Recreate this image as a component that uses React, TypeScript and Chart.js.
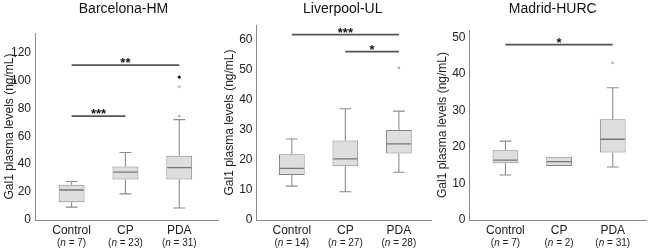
import React, { useEffect, useRef } from "react";
import { Chart, registerables } from "chart.js";

Chart.register(...registerables);

const FONT = '"Liberation Sans", Arial, sans-serif';

const categories = ["Control", "CP", "PDA"];

// Barcelona-HM
const bcnN = [7, 23, 31];
const bcnLow = [9.2, 18.7, 8.6];
const bcnQ1 = [12.7, 29.0, 29.0];
const bcnMedian = [21.5, 34.3, 37.6];
const bcnQ3 = [25.2, 38.3, 46.0];
const bcnHigh = [27.6, 48.4, 71.9];
const bcnOutliers = [[3, 74.5], [3, 95.4]];
const bcnExtremes = [[3, 102.4]];
const bcnSig = [
  { from: 1, to: 3, y: 111, label: "**" },
  { from: 1, to: 2, y: 74.5, label: "***" },
];

// Liverpool-UL
const livN = [14, 27, 28];
const livLow = [11.3, 9.4, 15.9];
const livQ1 = [15.0, 17.9, 22.2];
const livMedian = [17.2, 20.4, 25.4];
const livQ3 = [21.9, 26.5, 30.0];
const livHigh = [27.0, 37.1, 36.3];
const livOutliers = [[3, 50.7]];
const livExtremes: number[][] = [];
const livSig = [
  { from: 1, to: 3, y: 61.8, label: "***" },
  { from: 2, to: 3, y: 56.1, label: "*" },
];

// Madrid-HURC
const madN = [7, 2, 31];
const madLow = [12.3, null, 14.5];
const madQ1 = [15.5, 14.8, 18.5];
const madMedian = [16.4, 16.0, 22.1];
const madQ3 = [19.1, 17.3, 27.6];
const madHigh = [21.6, null, 36.2];
const madOutliers = [[3, 43.0]];
const madExtremes: number[][] = [];
const madSig = [{ from: 1, to: 3, y: 48, label: "*" }];

const yTitle = "Gal1 plasma levels (ng/mL)";

const panels = [
  {
    title: "Barcelona-HM", n: bcnN, low: bcnLow, q1: bcnQ1, med: bcnMedian, q3: bcnQ3, high: bcnHigh,
    outliers: bcnOutliers, extremes: bcnExtremes, sig: bcnSig,
    yMax: 134, yStep: 20, xMin: 0.32, xMax: 3.72,
    left: 0, width: 222, padRight: 2, yWidth: 35, titlePad: 2.8, top: 33, titleShift: -3,
  },
  {
    title: "Liverpool-UL", n: livN, low: livLow, q1: livQ1, med: livMedian, q3: livQ3, high: livHigh,
    outliers: livOutliers, extremes: livExtremes, sig: livSig,
    yMax: 65, yStep: 10, xMin: 0.34, xMax: 3.6,
    left: 222, width: 213, padRight: 2, yWidth: 34.5, titlePad: 0.8, top: 25, titleShift: -1,
  },
  {
    title: "Madrid-HURC", n: madN, low: madLow, q1: madQ1, med: madMedian, q3: madQ3, high: madHigh,
    outliers: madOutliers, extremes: madExtremes, sig: madSig,
    yMax: 52, yStep: 10, xMin: 0.33, xMax: 3.62,
    left: 435, width: 215, padRight: 1, yWidth: 34.5, titlePad: 0.8, top: 30, titleShift: -5,
  },
];

const CAP = 0.11;
const MED_HALF = 0.225;

function buildChart(canvas: HTMLCanvasElement, cfg: any) {
  const whisker: any[] = [];
  const median: any[] = [];
  categories.forEach((_, i) => {
    const x = i + 1;
    if (cfg.high[i] != null) {
      whisker.push({ x, y: cfg.q3[i] }, { x, y: cfg.high[i] }, { x, y: null });
      whisker.push({ x: x - CAP, y: cfg.high[i] }, { x: x + CAP, y: cfg.high[i] }, { x, y: null });
    }
    if (cfg.low[i] != null) {
      whisker.push({ x, y: cfg.q1[i] }, { x, y: cfg.low[i] }, { x, y: null });
      whisker.push({ x: x - CAP, y: cfg.low[i] }, { x: x + CAP, y: cfg.low[i] }, { x, y: null });
    }
    median.push({ x: x - MED_HALF, y: cfg.med[i] }, { x: x + MED_HALF, y: cfg.med[i] }, { x, y: null });
  });
  const sigLines: any[] = [];
  cfg.sig.forEach((s: any) => {
    sigLines.push({ x: s.from, y: s.y }, { x: s.to, y: s.y }, { x: s.to, y: null });
  });

  const textPlugin = {
    id: "texts" + cfg.title,
    afterDraw(chart: any) {
      const { ctx, chartArea, scales } = chart;
      const xs = scales.x;
      const ys = scales.y;
      ctx.save();
      ctx.fillStyle = "#111";
      ctx.textAlign = "center";
      ctx.textBaseline = "middle";
      ctx.font = `14px ${FONT}`;
      ctx.fillText(cfg.title, (chartArea.left + chartArea.right) / 2 + cfg.titleShift, 9);
      categories.forEach((c, i) => {
        const px = xs.getPixelForValue(i + 1);
        ctx.fillStyle = "#222";
        ctx.textAlign = "center";
        ctx.font = `12px ${FONT}`;
        ctx.fillText(c, px, 231);
        const parts: [string, boolean][] = [["(", false], ["n", true], [` = ${cfg.n[i]})`, false]];
        let total = 0;
        parts.forEach(([t, it]) => {
          ctx.font = `${it ? "italic " : ""}10px ${FONT}`;
          total += ctx.measureText(t).width;
        });
        let cx = px - total / 2;
        ctx.textAlign = "left";
        parts.forEach(([t, it]) => {
          ctx.font = `${it ? "italic " : ""}10px ${FONT}`;
          ctx.fillText(t, cx, 243);
          cx += ctx.measureText(t).width;
        });
      });
      ctx.textAlign = "center";
      ctx.textBaseline = "alphabetic";
      ctx.fillStyle = "#111";
      ctx.font = `bold 13px ${FONT}`;
      cfg.sig.forEach((s: any) => {
        const px = (xs.getPixelForValue(s.from) + xs.getPixelForValue(s.to)) / 2;
        const py = ys.getPixelForValue(s.y);
        ctx.fillText(s.label, px, py + 2);
      });
      ctx.restore();
    },
  };

  return new Chart(canvas, {
    type: "bar",
    data: {
      datasets: [
        {
          type: "line",
          data: median,
          borderColor: "#757575",
          borderWidth: 1.3,
          pointRadius: 0,
          spanGaps: false,
          order: 0,
        } as any,
        {
          type: "line",
          data: sigLines,
          borderColor: "#555",
          borderWidth: 1.8,
          pointRadius: 0,
          spanGaps: false,
          order: 0,
        } as any,
        {
          type: "scatter",
          data: cfg.outliers.map((p: number[]) => ({ x: p[0], y: p[1] })),
          pointRadius: 1.4,
          pointBackgroundColor: "#b5b5b5",
          pointBorderWidth: 0,
          order: 0,
        } as any,
        {
          type: "scatter",
          data: cfg.extremes.map((p: number[]) => ({ x: p[0], y: p[1] })),
          pointRadius: 1.6,
          pointBackgroundColor: "#111",
          pointBorderWidth: 0,
          order: 0,
        } as any,
        {
          type: "bar",
          data: categories.map((_, i) => ({ x: i + 1, y: [cfg.q1[i], cfg.q3[i]] })),
          backgroundColor: "#dedede",
          borderColor: "#858585",
          borderWidth: 1,
          borderSkipped: false,
          barPercentage: 0.48,
          categoryPercentage: 1,
          order: 1,
        } as any,
        {
          type: "line",
          data: whisker,
          borderColor: "#8c8c8c",
          borderWidth: 1.1,
          pointRadius: 0,
          spanGaps: false,
          order: 2,
        } as any,
      ],
    },
    options: {
      responsive: false,
      animation: false,
      devicePixelRatio: 1,
      layout: { padding: { left: 0, right: cfg.padRight, top: cfg.top, bottom: 0 } },
      plugins: { legend: { display: false }, tooltip: { enabled: false }, title: { display: false } },
      scales: {
        x: {
          type: "linear",
          min: cfg.xMin,
          max: cfg.xMax,
          offset: false,
          grid: { display: false, drawTicks: false },
          border: { display: true, color: "#8a8a8a", width: 1 },
          ticks: { display: false },
          afterBuildTicks: (s: any) => {
            s.ticks = categories.map((_, i) => ({ value: i + 1 }));
          },
          afterFit: (s: any) => { s.height = 29; },
        },
        y: {
          type: "linear",
          min: 0,
          max: cfg.yMax,
          grid: { display: false, drawTicks: false },
          border: { display: true, color: "#8a8a8a", width: 1 },
          ticks: {
            stepSize: cfg.yStep,
            includeBounds: false,
            padding: 4,
            color: "#222",
            font: { family: FONT, size: 12 },
          },
          title: {
            display: true,
            text: yTitle,
            color: "#222",
            font: { family: FONT, size: 12 },
            padding: { top: cfg.titlePad, bottom: 0 },
          },
          afterFit: (s: any) => { s.width = cfg.yWidth; },
        },
      },
    } as any,
    plugins: [textPlugin],
  });
}

function Panel({ cfg }: { cfg: any }) {
  const ref = useRef<HTMLCanvasElement>(null);
  useEffect(() => {
    const chart = buildChart(ref.current!, cfg);
    return () => chart.destroy();
  }, []);
  return (
    <canvas
      ref={ref}
      width={cfg.width}
      height={249}
      style={{ position: "absolute", left: cfg.left, top: 0, width: cfg.width, height: 249 }}
    />
  );
}

export default function App() {
  return (
    <div style={{ position: "fixed", left: 0, top: 0, width: 650, height: 249, background: "#fff" }}>
      {panels.map((p) => (
        <Panel key={p.title} cfg={p} />
      ))}
    </div>
  );
}
